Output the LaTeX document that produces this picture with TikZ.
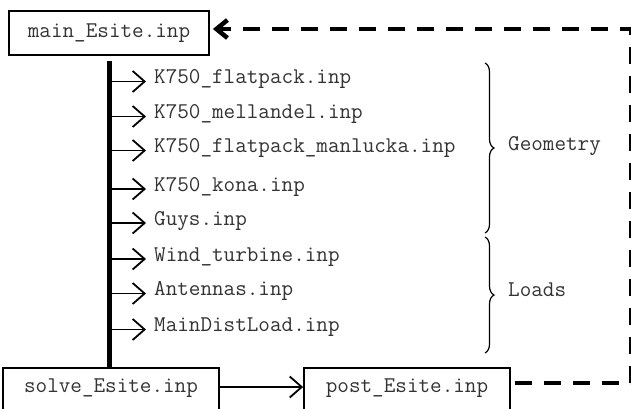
\documentclass[tikz,border=0pt]{standalone}
\usepackage{fontspec}
\usetikzlibrary{arrows.meta,decorations.pathreplacing,calc}
\begin{document}
\begin{tikzpicture}[x=1pt,y=-1pt,
  every node/.style={font=\ttfamily\fontsize{22.5}{26}\selectfont, text=black!80},
  topbox/.style={draw=black, line width=1.8pt, minimum width=200pt,
    text height=12.1pt, text depth=4.1pt, inner ysep=13.9pt, anchor=base},
  lowbox/.style={draw=black, line width=1.8pt,
    text height=12.1pt, text depth=30pt, inner ysep=11.9pt, anchor=base},
  filenode/.style={anchor=mid west, inner xsep=8pt, inner ysep=2pt},
  grouplabel/.style={anchor=mid west, inner xsep=8pt},
  trunk/.style={line width=5.5pt},
  flow/.style={line width=1.8pt, -{Straight Barb[length=12pt,width=21pt]}},
  feedback/.style={line width=4.5pt, dash pattern=on 17pt off 12pt,
    -{Straight Barb[length=11pt,width=18pt]}},
  groupbrace/.style={line width=1.2pt, decorate,
    decoration={brace, amplitude=9pt}},
]
\useasboundingbox (0,0) rectangle (631,408);
\clip (0,0) rectangle (631,408);

% main driver file and the two run stages
\node[topbox] (main) at (109,37) {main\_Esite.inp};
\node[lowbox, minimum width=216pt] (solve) at (111,392) {solve\_Esite.inp};
\node[lowbox, minimum width=206pt] (post) at (407,392) {post\_Esite.inp};

% included files
\node[filenode] (f1) at (146,81.5)  {K750\_flatpack.inp};
\node[filenode] (f2) at (146,116.5) {K750\_mellandel.inp};
\node[filenode] (f3) at (146,150.5) {K750\_flatpack\_manlucka.inp};
\node[filenode] (f4) at (146,189)   {K750\_kona.inp};
\node[filenode] (f5) at (146,223)   {Guys.inp};
\node[filenode] (f6) at (146,259)   {Wind\_turbine.inp};
\node[filenode] (f7) at (146,293.5) {Antennas.inp};
\node[filenode] (f8) at (146,329.5) {MainDistLoad.inp};

% vertical include trunk
\coordinate (ttop) at ($(main.south)+(0.5,5)$);
\coordinate (tbot) at (ttop |- solve.north);
\draw[trunk] (ttop) -- (tbot);

\foreach \f in {f1,f2,f3,f4,f5,f6,f7,f8}
  \draw[flow] (\f.mid west -| ttop) -- (\f.mid west);

% solve -> post
\draw[flow] ([yshift=5pt]solve.base east) -- ([yshift=5pt]post.base west);

% loop back from post to main
\coordinate (rc) at (631,0);
\coordinate (pout) at ([xshift=4pt,yshift=9pt]post.base east);
\coordinate (min) at ([xshift=3pt,yshift=8pt]main.base east);
\draw[feedback] (pout) -- (pout -| rc) -- (min -| rc) -- (min);

% grouping braces
\coordinate (g1) at (485,63);
\coordinate (g2) at (485,233);
\coordinate (l1) at (485,237);
\coordinate (l2) at (485,353);
\draw[groupbrace] (g1) -- (g2);
\draw[groupbrace] (l1) -- (l2);
\node[grouplabel] (geo) at (500,148) {Geometry};
\node[grouplabel] (loads) at (500,294) {Loads};
\end{tikzpicture}
\end{document}
